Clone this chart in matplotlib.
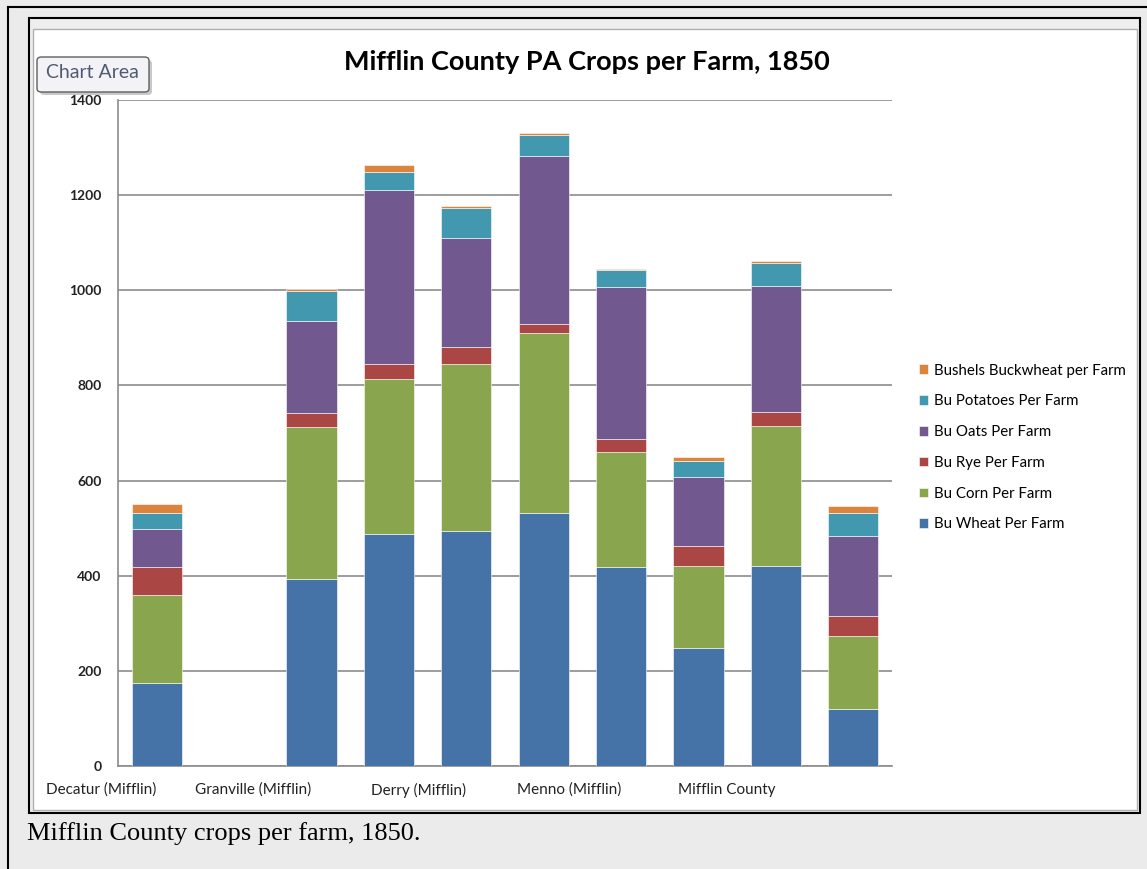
import numpy as np
import matplotlib
matplotlib.use("Agg")
import matplotlib.pyplot as plt
from matplotlib.patches import Rectangle, FancyBboxPatch

plt.rcParams['font.family'] = ['Lato', 'DejaVu Sans']

# data (bushels per farm)
tick_labels = ["Decatur (Mifflin)", "Granville (Mifflin)", "Derry (Mifflin)",
               "Menno (Mifflin)", "Mifflin County"]
wheat = [175, 0, 393, 488, 495, 532, 418, 249, 421, 120]
corn = [185, 0, 319, 326, 349, 378, 243, 172, 294, 154]
rye = [58, 0, 29, 30, 37, 20, 26, 41, 30, 41]
oats = [80, 0, 195, 367, 228, 353, 319, 146, 265, 169]
potatoes = [33, 0, 63, 37, 65, 44, 36, 34, 48, 48]
buckwheat = [19, 0, 3, 15, 4, 4, 3, 7, 3, 15]

series = [
    ("Bu Wheat Per Farm", wheat, "#4572A7"),
    ("Bu Corn Per Farm", corn, "#89A54E"),
    ("Bu Rye Per Farm", rye, "#AA4643"),
    ("Bu Oats Per Farm", oats, "#71588F"),
    ("Bu Potatoes Per Farm", potatoes, "#4198AF"),
    ("Bushels Buckwheat per Farm", buckwheat, "#DB843D"),
]

W, H = 1147, 869
fig = plt.figure(figsize=(W / 100, H / 100), dpi=100)
fig.patch.set_facecolor("#ebebeb")


def px(x, y):
    # pixel coords (top-left origin) -> figure fraction
    return x / W, 1 - y / H


def rect(x0, y0, x1, y1, **kw):
    fx, fy = px(x0, y1)
    r = Rectangle((fx, fy), (x1 - x0) / W, (y1 - y0) / H,
                  transform=fig.transFigure, **kw)
    fig.add_artist(r)
    return r


# outer document border lines
fig.add_artist(plt.Line2D([8 / W, 8 / W], [0, px(0, 7)[1]], color="black", lw=1.5,
                          transform=fig.transFigure))
fig.add_artist(plt.Line2D([8 / W, 1], [px(0, 7)[1]] * 2, color="black", lw=1.5,
                          transform=fig.transFigure))

# chart frame
rect(29, 18, 1140, 813, facecolor="#eeeeee", edgecolor="black", lw=1.5, zorder=0)
rect(33, 29, 1137, 810, facecolor="white", edgecolor="#b0b0b0", lw=1.0, zorder=0)

# caption
fig.text(*px(27, 840), "Mifflin County crops per farm, 1850.",
         family=["Liberation Serif"], fontsize=19, color="black", va="baseline")

# title
fig.text(*px(587, 62), "Mifflin County PA Crops per Farm, 1850", fontsize=19.5,
         fontweight="bold", ha="center", va="center", color="black")

# plot
ax = fig.add_axes([118 / W, 1 - 766 / H, (892 - 118) / W, (766 - 100) / H])
x = np.arange(len(wheat))
bottom = np.zeros(len(wheat))
handles = []
for name, vals, color in series:
    vals = np.array(vals, dtype=float)
    b = ax.bar(x, vals, width=0.65, bottom=bottom, color=color, label=name,
               edgecolor="white", linewidth=0.4, zorder=3)
    handles.append(b)
    bottom += vals

ax.set_xlim(-0.5, len(wheat) - 0.5)
ax.set_ylim(0, 1400)
ax.set_yticks(np.arange(0, 1401, 200))
ax.set_xticks(x[::2])
ax.set_xticklabels(tick_labels, ha="right", fontsize=11, color="#222222")
ax.tick_params(axis="both", length=0)
ax.tick_params(axis="x", pad=12)
ax.tick_params(axis="y", pad=12, labelsize=10, labelcolor="#222222")
for lbl in ax.get_yticklabels():
    lbl.set_fontweight("bold")
ax.grid(axis="y", color="#8c8c8c", lw=1.2, zorder=0)
for s in ["top", "right"]:
    ax.spines[s].set_visible(False)
for s in ["left", "bottom"]:
    ax.spines[s].set_color("#8c8c8c")
    ax.spines[s].set_linewidth(1.2)

leg = fig.legend(handles[::-1], [s[0] for s in series][::-1],
                 loc="upper left", bbox_to_anchor=px(905, 350), frameon=False,
                 fontsize=10.8, handlelength=0.6, handleheight=0.6,
                 handletextpad=0.4, labelspacing=1.12)

# "Chart Area" tooltip
x0, y0 = px(37, 92)
tip = FancyBboxPatch((x0, y0), 112 / W, 35 / H,
                     boxstyle="round,pad=0,rounding_size=0.004",
                     transform=fig.transFigure, facecolor="#f2f2f7",
                     edgecolor="#5f5f5f", lw=1.0, zorder=5)
shadow = FancyBboxPatch((x0 + 3 / W, y0 - 3 / H), 112 / W, 35 / H,
                        boxstyle="round,pad=0,rounding_size=0.004",
                        transform=fig.transFigure, facecolor="#c8c8c8",
                        edgecolor="none", zorder=4)
fig.add_artist(shadow)
fig.add_artist(tip)
fig.text(*px(92, 73), "Chart Area", fontsize=14, color="#505a70",
         ha="center", va="center", zorder=6)

fig.savefig("out.png", dpi=100, facecolor=fig.get_facecolor())
